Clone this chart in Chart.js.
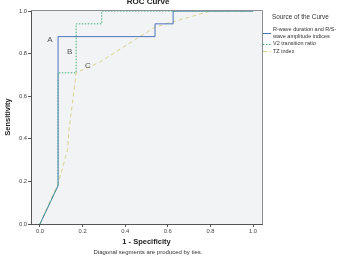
<!DOCTYPE html>
<html>
<head>
<meta charset="utf-8">
<script src="https://cdn.jsdelivr.net/npm/chart.js@4/dist/chart.umd.min.js"></script>
<style>
  html, body { margin: 0; padding: 0; background: #fff; }
  #wrap { width: 344px; height: 258px; position: relative; }
</style>
</head>
<body>
<div id="wrap"><canvas id="roc"></canvas></div>
<script>
// ROC curves: [1 - specificity, sensitivity]
const rwaveCurve = [[0, 0], [0.085, 0.18], [0.085, 0.88], [0.54, 0.88], [0.54, 0.94], [0.625, 0.94], [0.625, 1], [1, 1]];
const v2Curve = [[0, 0], [0.085, 0.18], [0.085, 0.71], [0.17, 0.71], [0.17, 0.94], [0.29, 0.94], [0.29, 1], [1, 1]];
const tzCurve = [[0, 0], [0.085, 0.19], [0.13, 0.35], [0.136, 0.44], [0.17, 0.71], [0.28, 0.76], [0.54, 0.925], [0.8, 1], [1, 1]];

const seriesNames = ["R-wave duration and R/S-wave amplitude indices", "V2 transition ratio", "TZ index"];
const legendLines = [["R-wave duration and R/S-", "wave amplitude indices"], ["V2 transition ratio"], ["TZ index"]];
const curveLabels = [["A", 0.047, 0.865], ["B", 0.14, 0.81], ["C", 0.225, 0.745]];
const xTicks = [0, 0.2, 0.4, 0.6, 0.8, 1.0];
const yTicks = [0, 0.2, 0.4, 0.6, 0.8, 1.0];

const colors = ["#4f74bd", "#45b37a", "#dcd38e"];
const dashes = [[], [1.5, 1.5], [4, 3]];
const drawOrder = [2, 1, 3];
const toPts = arr => arr.map(p => ({ x: p[0], y: p[1] }));

const extras = {
    id: "extras",
    beforeDraw(chart) {
        const { ctx, chartArea: a } = chart;
        ctx.save();
        ctx.fillStyle = "#f1f3f5";
        ctx.fillRect(a.left, a.top, a.right - a.left, a.bottom - a.top);
        ctx.restore();
    },
    afterDraw(chart) {
        const { ctx, chartArea: a, scales } = chart;
        ctx.save();
        // top and right frame
        ctx.strokeStyle = "#8a8f96";
        ctx.lineWidth = 1;
        ctx.beginPath();
        ctx.moveTo(a.left, a.top + 0.5);
        ctx.lineTo(a.right + 0.5, a.top + 0.5);
        ctx.lineTo(a.right + 0.5, a.bottom);
        ctx.stroke();

        // curve letters
        ctx.fillStyle = "#555";
        ctx.font = "8px 'Liberation Sans', Arial, sans-serif";
        ctx.textAlign = "center";
        ctx.textBaseline = "middle";
        curveLabels.forEach(l => ctx.fillText(l[0], scales.x.getPixelForValue(l[1]), scales.y.getPixelForValue(l[2])));

        // title (partly cut at top)
        ctx.fillStyle = "#222";
        ctx.font = "bold 8px 'Liberation Sans', Arial, sans-serif";
        ctx.fillText("ROC Curve", 148, 2);

        // footnote
        ctx.fillStyle = "#333";
        ctx.font = "6px 'Liberation Sans', Arial, sans-serif";
        ctx.fillText("Diagonal segments are produced by ties.", 148, 252);

        // legend
        ctx.textAlign = "left";
        ctx.font = "6.4px 'Liberation Sans', Arial, sans-serif";
        ctx.fillStyle = "#333";
        ctx.fillText("Source of the Curve", 272, 17);
        ctx.font = "5.5px 'Liberation Sans', Arial, sans-serif";
        let y = 29;
        legendLines.forEach((lines, i) => {
            const midY = y + (lines.length - 1) * 3.5;
            ctx.strokeStyle = colors[i];
            ctx.setLineDash(dashes[i]);
            ctx.beginPath();
            ctx.moveTo(263, Math.round(midY) + 0.5);
            ctx.lineTo(271, Math.round(midY) + 0.5);
            ctx.stroke();
            ctx.setLineDash([]);
            lines.forEach((t, j) => ctx.fillText(t, 273, y + j * 7));
            y += lines.length * 7 + 0.5;
        });
        ctx.restore();
    }
};

new Chart(document.getElementById("roc"), {
    type: "scatter",
    data: {
        datasets: [rwaveCurve, v2Curve, tzCurve].map((c, i) => ({
            label: seriesNames[i],
            data: toPts(c),
            order: drawOrder[i],
            showLine: true,
            borderColor: colors[i],
            borderWidth: 1,
            borderDash: dashes[i],
            pointRadius: 0,
            fill: false,
            tension: 0
        }))
    },
    options: {
        responsive: true,
        maintainAspectRatio: false,
        animation: false,
        layout: { padding: { left: 3, right: 82, top: 10, bottom: 12 } },
        plugins: { legend: { display: false }, tooltip: { enabled: false } },
        scales: {
            x: {
                type: "linear",
                min: -0.042,
                max: 1.042,
                afterBuildTicks: s => { s.ticks = xTicks.map(v => ({ value: v })); },
                afterFit: s => { s.height = 22; },
                grid: { drawOnChartArea: false, tickLength: 3, color: "#555" },
                border: { color: "#555" },
                ticks: { padding: 1, font: { size: 5.8, family: "'Liberation Sans', Arial" }, color: "#444", callback: v => v.toFixed(1), maxRotation: 0 },
                title: { display: true, text: "1 - Specificity", padding: { top: 0, bottom: 0 }, font: { size: 7.5, weight: "bold", family: "'Liberation Sans', Arial" }, color: "#222" }
            },
            y: {
                type: "linear",
                min: 0,
                max: 1.005,
                afterBuildTicks: s => { s.ticks = yTicks.map(v => ({ value: v })); },
                afterFit: s => { s.width = 28; },
                grid: { drawOnChartArea: false, tickLength: 3, color: "#555" },
                border: { color: "#555" },
                ticks: { padding: 1, font: { size: 5.8, family: "'Liberation Sans', Arial" }, color: "#444", callback: v => v.toFixed(1) },
                title: { display: true, text: "Sensitivity", padding: { top: 0, bottom: 0 }, font: { size: 7.5, weight: "bold", family: "'Liberation Sans', Arial" }, color: "#222" }
            }
        }
    },
    plugins: [extras]
});
</script>
</body>
</html>
